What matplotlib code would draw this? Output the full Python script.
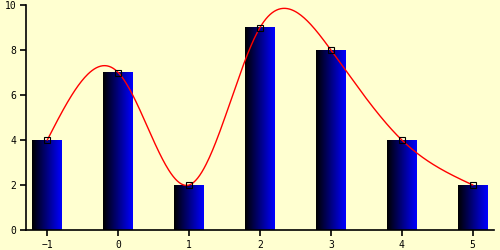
import numpy as np
import matplotlib
matplotlib.use("Agg")
import matplotlib.pyplot as plt
from matplotlib.colors import LinearSegmentedColormap

xs = [-1, 0, 1, 2, 3, 4, 5]
ys = [4, 7, 2, 9, 8, 4, 2]
yticks = [0, 2, 4, 6, 8, 10]


def natural_spline(x, y, xn):
    x = np.asarray(x, float)
    y = np.asarray(y, float)
    n = len(x)
    h = np.diff(x)
    A = np.zeros((n, n))
    r = np.zeros(n)
    A[0, 0] = A[-1, -1] = 1
    for i in range(1, n - 1):
        A[i, i - 1] = h[i - 1]
        A[i, i] = 2 * (h[i - 1] + h[i])
        A[i, i + 1] = h[i]
        r[i] = 3 * ((y[i + 1] - y[i]) / h[i] - (y[i] - y[i - 1]) / h[i - 1])
    c = np.linalg.solve(A, r)
    b = (y[1:] - y[:-1]) / h - h * (2 * c[:-1] + c[1:]) / 3
    d = (c[1:] - c[:-1]) / (3 * h)
    idx = np.clip(np.searchsorted(x, xn) - 1, 0, n - 2)
    t = xn - x[idx]
    return y[idx] + b[idx] * t + c[idx] * t ** 2 + d[idx] * t ** 3


fig = plt.figure(figsize=(5, 2.5), dpi=100, facecolor="#ffffd0")
ax = fig.add_axes([0.052, 0.08, 0.936, 0.90])
ax.set_facecolor("#ffffd0")

cmap = LinearSegmentedColormap.from_list("bk", ["#000000", "#0000ff"])
grad = np.linspace(0, 1, 64).reshape(1, -1)
w = 0.42
for x, y in zip(xs, ys):
    ax.imshow(grad, cmap=cmap, aspect="auto", extent=(x - w / 2, x + w / 2, 0, y),
              interpolation="bilinear", zorder=2)

xn = np.linspace(xs[0], xs[-1], 400)
ax.plot(xn, natural_spline(xs, ys, xn), color="red", lw=1, zorder=3)
ax.plot(xs, ys, ls="none", marker="s", ms=4, mfc="none", mec="black", mew=0.8, zorder=4)

ax.set_xlim(-1.3, 5.3)
ax.set_ylim(0, 10)
ax.set_xticks(xs)
ax.set_yticks(yticks)
for s in ["top", "right"]:
    ax.spines[s].set_visible(False)
for s in ["left", "bottom"]:
    ax.spines[s].set_linewidth(1.2)
ax.tick_params(direction="out", length=4, width=1.2, labelsize=7, pad=3)
for lab in ax.get_xticklabels() + ax.get_yticklabels():
    lab.set_family("DejaVu Sans Mono")

fig.savefig("out.png", dpi=100, facecolor=fig.get_facecolor())
